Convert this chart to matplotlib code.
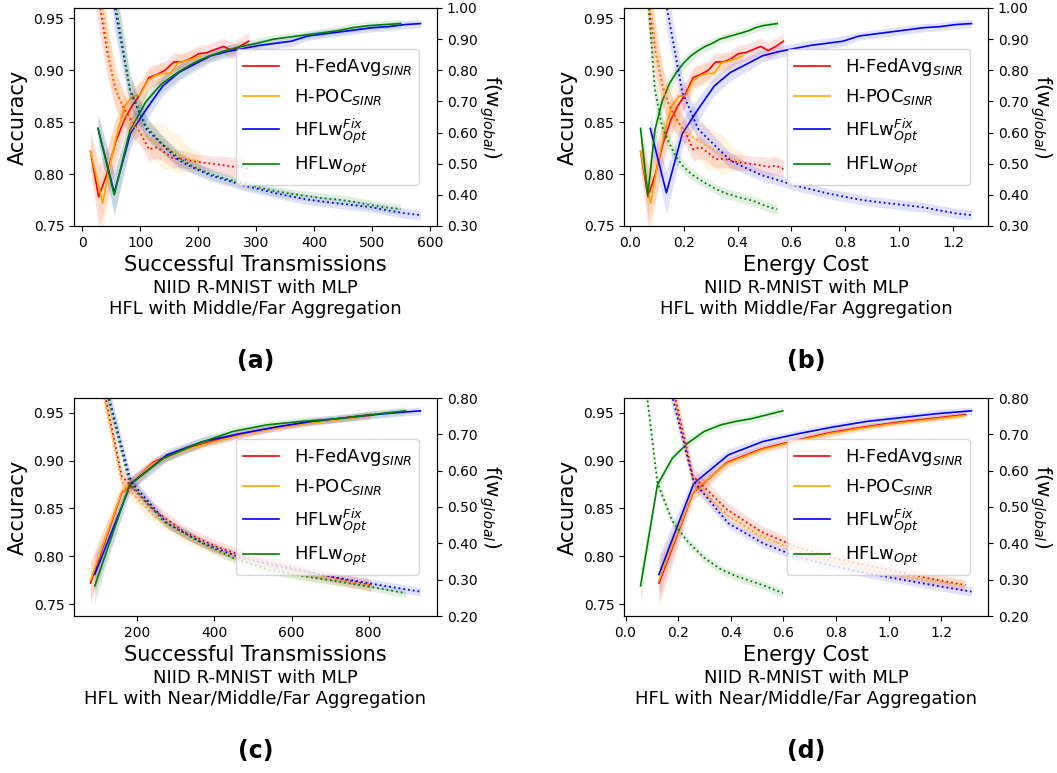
import numpy as np
import matplotlib.pyplot as plt
from matplotlib.ticker import FormatStrFormatter

labels = [r'H-FedAvg$_{SINR}$', r'H-POC$_{SINR}$', r'HFLw$^{Fix}_{Opt}$', r'HFLw$_{Opt}$']
colors = ['red', 'orange', 'blue', 'green']

# ---- Middle/Far aggregation (panels a, b) ----
mf_red_trans = [14, 28, 43, 57, 72, 86, 100, 115, 129, 143, 158, 172, 186, 201, 215, 229, 244, 258, 272, 287]
mf_red_energy = [0.040, 0.068, 0.096, 0.124, 0.152, 0.179, 0.207, 0.235, 0.263, 0.291, 0.319, 0.347, 0.375,
                 0.403, 0.430, 0.458, 0.486, 0.514, 0.542, 0.570]
mf_red_acc = [0.822, 0.778, 0.801, 0.830, 0.852, 0.866, 0.877, 0.893, 0.896, 0.900, 0.908, 0.908, 0.911,
              0.916, 0.917, 0.920, 0.923, 0.919, 0.923, 0.928]
mf_red_loss = [1.30, 1.03, 0.86, 0.74, 0.675, 0.635, 0.600, 0.546, 0.553, 0.535, 0.515, 0.516, 0.510,
               0.505, 0.502, 0.499, 0.495, 0.490, 0.494, 0.483]
mf_red_acc_sd = [0.018, 0.030, 0.025, 0.020, 0.016, 0.014, 0.012, 0.010, 0.010, 0.009, 0.009, 0.008, 0.008,
                 0.008, 0.008, 0.008, 0.008, 0.008, 0.008, 0.008]
mf_red_loss_sd = [0.12, 0.10, 0.08, 0.06, 0.05, 0.045, 0.04, 0.04, 0.035, 0.03, 0.03, 0.028, 0.026,
                  0.025, 0.025, 0.025, 0.028, 0.03, 0.03, 0.028]

mf_orange_trans = [14, 35, 48, 61, 74, 87, 100, 113, 126, 139, 152, 165, 178, 191, 204]
mf_orange_energy = [0.040, 0.078, 0.104, 0.130, 0.157, 0.183, 0.209, 0.235, 0.262, 0.288, 0.314, 0.340,
                    0.367, 0.393, 0.419]
mf_orange_acc = [0.822, 0.772, 0.810, 0.842, 0.866, 0.875, 0.876, 0.890, 0.895, 0.897, 0.897, 0.907,
                 0.909, 0.911, 0.914]
mf_orange_loss = [1.35, 1.00, 0.82, 0.72, 0.66, 0.625, 0.600, 0.585, 0.570, 0.555, 0.545, 0.530,
                  0.520, 0.512, 0.506]
mf_orange_acc_sd = [0.018, 0.030, 0.025, 0.020, 0.016, 0.014, 0.012, 0.011, 0.010, 0.010, 0.009, 0.009,
                    0.008, 0.008, 0.008]
mf_orange_loss_sd = [0.12, 0.10, 0.08, 0.06, 0.05, 0.045, 0.04, 0.045, 0.06, 0.075, 0.06, 0.065,
                     0.045, 0.035, 0.03]

mf_blue_trans = [27, 55, 83, 111, 139, 167, 194, 222, 250, 278, 306, 334, 361, 389, 417, 445, 473, 500,
                 528, 556, 584]
mf_blue_energy = [0.076, 0.136, 0.195, 0.255, 0.314, 0.374, 0.434, 0.493, 0.553, 0.612, 0.672, 0.732,
                  0.791, 0.851, 0.910, 0.970, 1.030, 1.089, 1.149, 1.208, 1.268]
mf_blue_acc = [0.844, 0.782, 0.839, 0.863, 0.885, 0.898, 0.906, 0.914, 0.918, 0.921, 0.924, 0.926,
               0.928, 0.933, 0.935, 0.937, 0.939, 0.941, 0.942, 0.944, 0.945]
mf_blue_loss = [1.60, 1.01, 0.73, 0.61, 0.56, 0.51, 0.485, 0.462, 0.447, 0.430, 0.418, 0.405,
                0.395, 0.385, 0.378, 0.372, 0.366, 0.360, 0.350, 0.341, 0.335]
mf_blue_acc_sd = [0.014, 0.020, 0.014, 0.011, 0.009, 0.008, 0.007, 0.006, 0.006, 0.005, 0.005, 0.005,
                  0.005, 0.004, 0.004, 0.004, 0.004, 0.004, 0.004, 0.004, 0.004]
mf_blue_loss_sd = [0.10, 0.08, 0.05, 0.035, 0.028, 0.024, 0.02, 0.018, 0.017, 0.016, 0.016, 0.016,
                   0.016, 0.016, 0.016, 0.016, 0.016, 0.016, 0.016, 0.016, 0.016]

mf_green_trans = [27, 55, 82, 110, 137, 165, 192, 220, 247, 275, 302, 330, 357, 385, 412, 440, 467, 495,
                  522, 550]
mf_green_energy = [0.040, 0.067, 0.093, 0.120, 0.147, 0.173, 0.200, 0.227, 0.254, 0.280, 0.307, 0.334,
                   0.360, 0.387, 0.414, 0.440, 0.467, 0.494, 0.520, 0.547]
mf_green_acc = [0.844, 0.780, 0.842, 0.870, 0.887, 0.898, 0.907, 0.914, 0.919, 0.923, 0.926, 0.930,
                0.932, 0.934, 0.936, 0.938, 0.941, 0.943, 0.944, 0.945]
mf_green_loss = [1.60, 1.04, 0.74, 0.62, 0.565, 0.52, 0.49, 0.468, 0.452, 0.438, 0.425, 0.413,
                 0.404, 0.397, 0.390, 0.385, 0.378, 0.368, 0.360, 0.354]
mf_green_acc_sd = [0.012, 0.020, 0.013, 0.010, 0.008, 0.007, 0.006, 0.006, 0.005, 0.005, 0.005, 0.004,
                   0.004, 0.004, 0.004, 0.004, 0.004, 0.004, 0.004, 0.004]
mf_green_loss_sd = [0.10, 0.08, 0.05, 0.035, 0.028, 0.024, 0.02, 0.018, 0.017, 0.016, 0.016, 0.016,
                    0.016, 0.016, 0.016, 0.016, 0.016, 0.016, 0.016, 0.016]

# ---- Near/Middle/Far aggregation (panels c, d) ----
nmf_red_trans = [78, 159, 240, 321, 402, 483, 564, 645, 726, 806]
nmf_red_energy = [0.127, 0.256, 0.386, 0.515, 0.645, 0.774, 0.904, 1.033, 1.163, 1.293]
nmf_red_acc = [0.772, 0.866, 0.898, 0.912, 0.921, 0.929, 0.935, 0.940, 0.944, 0.948]
nmf_red_loss = [1.00, 0.585, 0.493, 0.432, 0.392, 0.362, 0.342, 0.322, 0.302, 0.285]
nmf_red_acc_sd = [0.022, 0.008, 0.005, 0.004, 0.004, 0.004, 0.003, 0.003, 0.003, 0.003]
nmf_red_loss_sd = [0.04, 0.025, 0.02, 0.018, 0.017, 0.016, 0.016, 0.016, 0.015, 0.015]

nmf_orange_trans = [78, 159, 240, 321, 402, 483, 564, 645, 726, 806]
nmf_orange_energy = [0.127, 0.256, 0.385, 0.514, 0.643, 0.772, 0.901, 1.030, 1.159, 1.288]
nmf_orange_acc = [0.775, 0.867, 0.897, 0.911, 0.920, 0.928, 0.934, 0.939, 0.943, 0.947]
nmf_orange_loss = [0.98, 0.570, 0.478, 0.420, 0.382, 0.354, 0.333, 0.314, 0.298, 0.283]
nmf_orange_acc_sd = [0.022, 0.008, 0.005, 0.004, 0.004, 0.004, 0.003, 0.003, 0.003, 0.003]
nmf_orange_loss_sd = [0.04, 0.025, 0.02, 0.018, 0.017, 0.016, 0.016, 0.016, 0.015, 0.015]

nmf_blue_trans = [89, 183, 277, 371, 465, 559, 653, 747, 841, 935]
nmf_blue_energy = [0.127, 0.259, 0.391, 0.523, 0.655, 0.787, 0.919, 1.051, 1.183, 1.315]
nmf_blue_acc = [0.781, 0.876, 0.906, 0.920, 0.928, 0.935, 0.941, 0.945, 0.949, 0.952]
nmf_blue_loss = [0.95, 0.570, 0.455, 0.400, 0.362, 0.338, 0.318, 0.300, 0.283, 0.267]
nmf_blue_acc_sd = [0.020, 0.008, 0.006, 0.005, 0.004, 0.004, 0.004, 0.004, 0.004, 0.004]
nmf_blue_loss_sd = [0.04, 0.018, 0.014, 0.012, 0.012, 0.012, 0.012, 0.012, 0.012, 0.012]

nmf_green_trans = [89, 179, 268, 358, 448, 537, 627, 717, 806, 896]
nmf_green_energy = [0.057, 0.121, 0.178, 0.235, 0.299, 0.363, 0.420, 0.477, 0.540, 0.598]
nmf_green_acc = [0.769, 0.8745, 0.9025, 0.918, 0.9305, 0.9374, 0.941, 0.9437, 0.948, 0.952]
nmf_green_loss = [0.95, 0.567, 0.461, 0.406, 0.360, 0.328, 0.310, 0.296, 0.280, 0.263]
nmf_green_acc_sd = [0.018, 0.006, 0.005, 0.005, 0.004, 0.004, 0.004, 0.004, 0.004, 0.004]
nmf_green_loss_sd = [0.04, 0.016, 0.014, 0.013, 0.012, 0.012, 0.012, 0.012, 0.012, 0.012]

mf = {
    'trans': [mf_red_trans, mf_orange_trans, mf_blue_trans, mf_green_trans],
    'energy': [mf_red_energy, mf_orange_energy, mf_blue_energy, mf_green_energy],
    'acc': [mf_red_acc, mf_orange_acc, mf_blue_acc, mf_green_acc],
    'loss': [mf_red_loss, mf_orange_loss, mf_blue_loss, mf_green_loss],
    'acc_sd': [mf_red_acc_sd, mf_orange_acc_sd, mf_blue_acc_sd, mf_green_acc_sd],
    'loss_sd': [mf_red_loss_sd, mf_orange_loss_sd, mf_blue_loss_sd, mf_green_loss_sd],
}
nmf = {
    'trans': [nmf_red_trans, nmf_orange_trans, nmf_blue_trans, nmf_green_trans],
    'energy': [nmf_red_energy, nmf_orange_energy, nmf_blue_energy, nmf_green_energy],
    'acc': [nmf_red_acc, nmf_orange_acc, nmf_blue_acc, nmf_green_acc],
    'loss': [nmf_red_loss, nmf_orange_loss, nmf_blue_loss, nmf_green_loss],
    'acc_sd': [nmf_red_acc_sd, nmf_orange_acc_sd, nmf_blue_acc_sd, nmf_green_acc_sd],
    'loss_sd': [nmf_red_loss_sd, nmf_orange_loss_sd, nmf_blue_loss_sd, nmf_green_loss_sd],
}

plt.rcParams['xtick.labelsize'] = 10
plt.rcParams['ytick.labelsize'] = 10

fig = plt.figure(figsize=(10.57, 7.73), dpi=100)


def panel(pos, d, xkey, xlabel, acc_lim, loss_lim, caption, tag):
    ax = fig.add_axes(pos)
    ax2 = ax.twinx()
    for i in range(4):
        x = np.array(d[xkey][i])
        acc = np.array(d['acc'][i])
        asd = np.array(d['acc_sd'][i])
        loss = np.array(d['loss'][i])
        lsd = np.array(d['loss_sd'][i])
        ax.plot(x, acc, color=colors[i], lw=1.2, label=labels[i])
        ax.fill_between(x, acc - asd, acc + asd, color=colors[i], alpha=0.12, lw=0)
        ax2.plot(x, loss, color=colors[i], ls=':', lw=1.3)
        ax2.fill_between(x, loss - lsd, loss + lsd, color=colors[i], alpha=0.12, lw=0)
    ax.set_ylim(*acc_lim)
    ax2.set_ylim(*loss_lim)
    ax.yaxis.set_major_formatter(FormatStrFormatter('%.2f'))
    ax2.yaxis.set_major_formatter(FormatStrFormatter('%.2f'))
    ax.set_xlabel(xlabel, fontsize=15)
    ax.set_ylabel('Accuracy', fontsize=15)
    ax2.set_ylabel(r'f(w$_{global}$)', fontsize=14.5, rotation=270, va='bottom', labelpad=0)
    h, l = ax.get_legend_handles_labels()
    ax2.legend(h, l, loc='center right', fontsize=13, borderaxespad=1.0)
    cx = pos[0] + pos[2] / 2
    top = pos[1]
    fig.text(cx, top - 53 / 773, caption, ha='center', va='top', fontsize=13)
    fig.text(cx, top - 135 / 773, tag, ha='center', va='center', fontsize=17, weight='bold')
    return ax, ax2


pa = [74 / 1057, 1 - 226 / 773, 363 / 1057, 218 / 773]
pb = [624 / 1057, 1 - 226 / 773, 364 / 1057, 218 / 773]
pc = [74 / 1057, 1 - 616 / 773, 363 / 1057, 218 / 773]
pd_ = [624 / 1057, 1 - 616 / 773, 364 / 1057, 218 / 773]

cap_mf = 'NIID R-MNIST with MLP\nHFL with Middle/Far Aggregation'
cap_nmf = 'NIID R-MNIST with MLP\nHFL with Near/Middle/Far Aggregation'

panel(pa, mf, 'trans', 'Successful Transmissions', (0.75, 0.96), (0.30, 1.00), cap_mf, '(a)')
panel(pb, mf, 'energy', 'Energy Cost', (0.75, 0.96), (0.30, 1.00), cap_mf, '(b)')
panel(pc, nmf, 'trans', 'Successful Transmissions', (0.7376, 0.9654), (0.20, 0.80), cap_nmf, '(c)')
panel(pd_, nmf, 'energy', 'Energy Cost', (0.7376, 0.9654), (0.20, 0.80), cap_nmf, '(d)')

fig.savefig('out.png', dpi=100)
